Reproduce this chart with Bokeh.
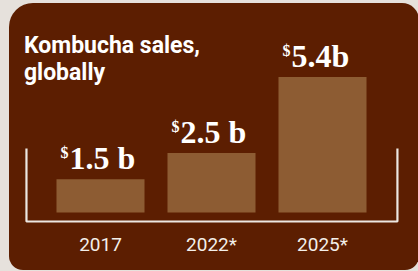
from bokeh.plotting import figure
from bokeh.models import (Range1d, ColumnDataSource, LabelSet, Label, FixedTicker,
                          GlobalInlineStyleSheet)
from bokeh.embed import file_html
from bokeh.resources import INLINE

# ---- data ----
years = ["2017", "2022*", "2025*"]
sales = [1.5, 2.5, 5.4]
value_labels = ["1.5 b", "2.5 b", "5.4b"]
currency = ["$", "$", "$"]
title_lines = ["Kombucha sales,", "globally"]

# ---- style ----
CARD = "#5c1e01"
PAGE = "#e6e1dc"
BAR = "#8d5c33"
LINE = "#ece7e2"
WHITE = "#ffffff"
TITLE_FONT = "Roboto"
NUM_FONT = "Liberation Serif"
BASE = 0.23

xs = list(range(len(years)))

p = figure(width=410, height=267, output_backend="svg", toolbar_location=None,
           x_range=Range1d(-0.7928, 2.8108), y_range=Range1d(-0.228, 7.86),
           y_axis_location=None,
           min_border_left=3, min_border_right=7, min_border_top=9, min_border_bottom=46)

p.background_fill_alpha = 0
p.border_fill_alpha = 0
p.outline_line_color = None
p.grid.visible = False
p.styles = {"background-color": CARD, "border-radius": "24px 17px 14px 14px",
            "margin-left": "9px", "margin-top": "3px"}
p.stylesheets = [GlobalInlineStyleSheet(css=f"body {{ background-color: {PAGE}; }}")]

src = ColumnDataSource(dict(x=xs, sales=sales, lab=value_labels, cur=currency))

p.vbar(x="x", top="sales", bottom=BASE, width=0.793, source=src,
       fill_color=BAR, line_color=None)

# bracket
p.line(x=[-0.667, -0.667, 2.675, 2.675], y=[2.673, -0.1135, -0.1135, 2.673],
       line_color=LINE, line_width=2.2)

# value labels
p.add_layout(LabelSet(x="x", y="sales", text="lab", source=src, x_offset=-31, y_offset=10,
                      text_align="left", text_baseline="alphabetic",
                      text_font=NUM_FONT, text_font_style="bold",
                      text_font_size="32px", text_color=WHITE))
p.add_layout(LabelSet(x="x", y="sales", text="cur", source=src, x_offset=-40, y_offset=21,
                      text_align="left", text_baseline="alphabetic",
                      text_font=NUM_FONT, text_font_style="bold",
                      text_font_size="16px", text_color=WHITE))

# title
for line, yy in zip(title_lines, [6.60, 5.571]):
    p.add_layout(Label(x=-0.69, y=yy, text=line, text_font=TITLE_FONT,
                       text_font_style="bold", text_font_size="23px",
                       text_color=WHITE, text_baseline="alphabetic"))

# x axis
ax = p.xaxis[0]
ax.ticker = FixedTicker(ticks=xs)
ax.major_label_overrides = {i: y for i, y in zip(xs, years)}
ax.axis_line_color = None
ax.major_tick_line_color = None
ax.minor_tick_line_color = None
ax.major_label_standoff = 2
ax.major_label_text_font = TITLE_FONT
ax.major_label_text_font_size = "19px"
ax.major_label_text_color = "#f3efea"

open("out.html", "w").write(file_html(p, INLINE))
